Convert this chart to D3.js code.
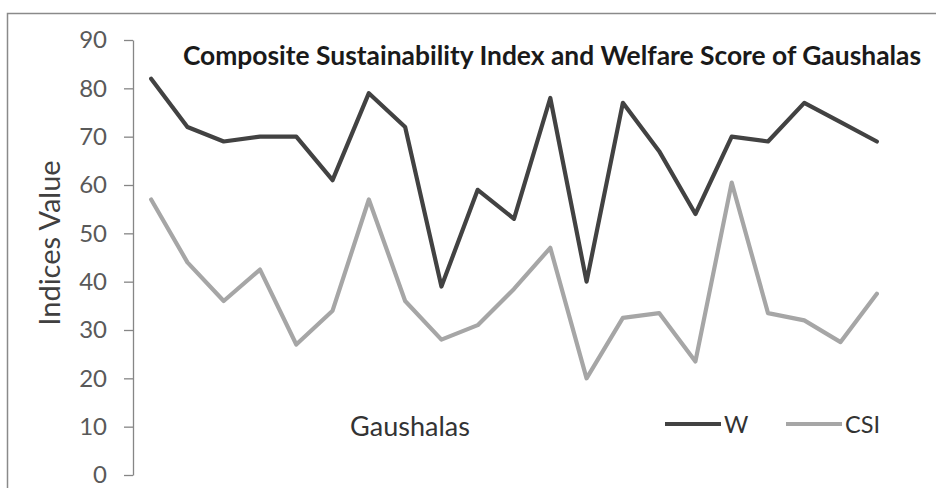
<!DOCTYPE html>
<html>
<head>
<meta charset="utf-8">
<script src="https://cdn.jsdelivr.net/npm/d3@7"></script>
<style>
  html, body { margin: 0; padding: 0; background: #fff; }
  svg { display: block; }
  text { font-family: Lato, "Open Sans", sans-serif; }
</style>
</head>
<body>
<svg id="chart" width="936" height="488"></svg>
<script>
// Gaushala index (1..21) and the two indices per gaushala
const gaushalas = d3.range(1, 22).map(String);
const welfare = [82, 72, 69, 70, 70, 61, 79, 72, 39, 59, 53, 78, 40, 77, 67, 54, 70, 69, 77, 73, 69];
const csi = [57, 44, 36, 42.5, 27, 34, 57, 36, 28, 31, 38.5, 47, 20, 32.5, 33.5, 23.5, 60.5, 33.5, 32, 27.5, 37.5];
const yTicks = [0, 10, 20, 30, 40, 50, 60, 70, 80, 90];
const seriesNames = ["W", "CSI"];

const svg = d3.select("#chart");

// chart frame
svg.append("path")
  .attr("d", "M7.5,488 V13.5 H936")
  .attr("fill", "none")
  .attr("stroke", "#8a8a8a")
  .attr("stroke-width", 1.5);

const x = d3.scaleBand().domain(gaushalas).range([133, 895]);
const y = d3.scaleLinear().domain([0, 90]).range([475, 40]);

// vertical axis
const yAxis = svg.append("g")
  .attr("transform", "translate(133,0)")
  .call(d3.axisLeft(y).tickValues(yTicks).tickSize(9).tickPadding(17).tickSizeOuter(0));
yAxis.select(".domain").attr("stroke", "#868686").attr("stroke-width", 1.3);
yAxis.selectAll(".tick line").attr("stroke", "#868686").attr("stroke-width", 1.3);
yAxis.selectAll(".tick text")
  .attr("fill", "#595959")
  .attr("font-size", 24)
  .attr("font-family", "Lato, sans-serif");

// axis title
svg.append("text")
  .attr("transform", "translate(60,243) rotate(-90)")
  .attr("text-anchor", "middle")
  .attr("font-size", 29)
  .attr("fill", "#404040")
  .text("Indices Value");

// chart title
svg.append("text")
  .attr("x", 552)
  .attr("y", 65)
  .attr("text-anchor", "middle")
  .attr("font-size", 26.4)
  .attr("font-weight", "bold")
  .attr("fill", "#1a1a1a")
  .text("Composite Sustainability Index and Welfare Score of Gaushalas");

// category label
svg.append("text")
  .attr("x", 410)
  .attr("y", 436)
  .attr("text-anchor", "middle")
  .attr("font-size", 27)
  .attr("fill", "#333333")
  .text("Gaushalas");

const colors = { W: "#424242", CSI: "#a6a6a6" };
const data = { W: welfare, CSI: csi };

const line = d3.line()
  .x((d, i) => x(gaushalas[i]) + x.bandwidth() / 2)
  .y(d => y(d));

seriesNames.slice().reverse().forEach(name => {
  svg.append("path")
    .datum(data[name])
    .attr("fill", "none")
    .attr("stroke", colors[name])
    .attr("stroke-width", 4.2)
    .attr("stroke-linejoin", "round")
    .attr("stroke-linecap", "round")
    .attr("d", line);
});

// legend
const legend = svg.append("g");
const legendX = { W: 665, CSI: 786 };
seriesNames.forEach(name => {
  const g = legend.append("g").attr("transform", `translate(${legendX[name]},424)`);
  g.append("line")
    .attr("x1", 0).attr("x2", 56)
    .attr("stroke", colors[name])
    .attr("stroke-width", 4.2);
  g.append("text")
    .attr("x", 59)
    .attr("y", 9)
    .attr("font-size", 23.5)
    .attr("fill", "#333333")
    .text(name);
});
</script>
</body>
</html>
